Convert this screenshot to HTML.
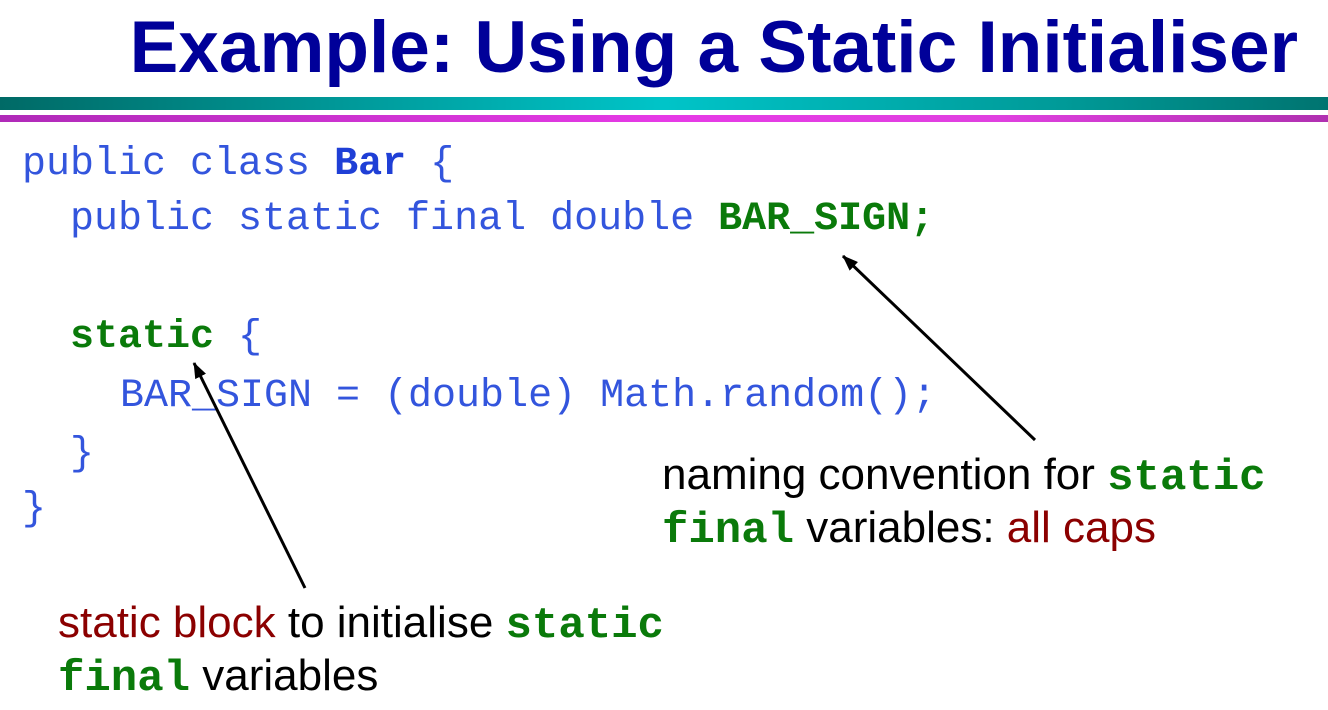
<!DOCTYPE html>
<html><head><style>
body{margin:0;width:1328px;height:710px;background:#fff;position:relative;overflow:hidden;font-family:"Liberation Sans",sans-serif}
.t{position:absolute;white-space:pre}
.title{left:0;width:1328px;top:6px;font-size:73px;line-height:84px;font-weight:bold;color:#000099;text-align:right;padding-right:30px;box-sizing:border-box;letter-spacing:0px}
.c{font-family:"Liberation Mono",monospace;font-size:40px;color:#3355dd;line-height:40px}
.g{color:#0a7a0a;font-weight:bold}
.b{color:#1f3fd6;font-weight:bold}
.s{font-size:44px;color:#000;line-height:44px}
.r{color:#8b0000}
.sm{font-family:"Liberation Mono",monospace;font-weight:bold;color:#0a7a0a}
</style></head><body>
<div class="t title">Example: Using a Static Initialiser</div>
<div style="position:absolute;left:0;top:97px;width:1328px;height:13px;background:linear-gradient(90deg,#006a66,#00c4c8 50%,#009a98 80%,#007470)"></div>
<div style="position:absolute;left:0;top:115px;width:1328px;height:7px;background:linear-gradient(90deg,#b02ab8,#e63ae6 50%,#e040e0 75%,#b030b0)"></div>
<div class="t c" style="left:22px;top:145px">public class <span class="b">Bar</span> {</div>
<div class="t c" style="left:70px;top:200px">public static final double <span class="g">BAR_SIGN;</span></div>
<div class="t c" style="left:70px;top:318px"><span class="g">static</span> {</div>
<div class="t c" style="left:120px;top:377px">BAR_SIGN = (double) Math.random();</div>
<div class="t c" style="left:70px;top:435px">}</div>
<div class="t c" style="left:22px;top:490px">}</div>
<div class="t s" style="left:662px;top:453px">naming convention for <span class="sm">static</span></div>
<div class="t s" style="left:662px;top:506px"><span class="sm">final</span> variables: <span class="r">all caps</span></div>
<div class="t s" style="left:58px;top:601px"><span class="r">static block</span> to initialise <span class="sm">static</span></div>
<div class="t s" style="left:58px;top:654px"><span class="sm">final</span> variables</div>
<svg style="position:absolute;left:0;top:0" width="1328" height="710">
<defs><marker id="a" markerWidth="16" markerHeight="12" refX="15" refY="6" orient="auto" markerUnits="userSpaceOnUse"><path d="M0,0 L16,6 L0,12 z" fill="#000"/></marker></defs>
<line x1="1035" y1="440" x2="843" y2="256" stroke="#000" stroke-width="3" marker-end="url(#a)"/>
<line x1="305" y1="588" x2="194" y2="363" stroke="#000" stroke-width="3" marker-end="url(#a)"/>
</svg>
</body></html>
